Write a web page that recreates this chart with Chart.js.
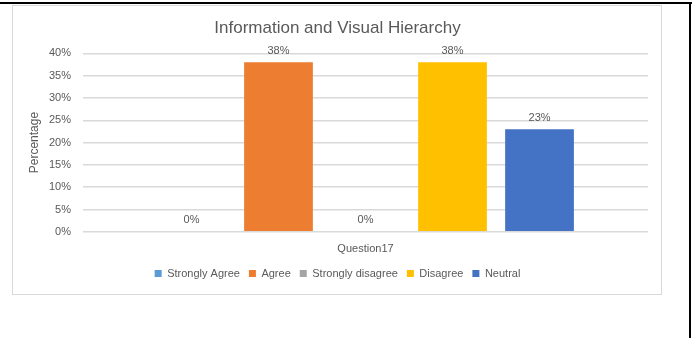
<!DOCTYPE html>
<html>
<head>
<meta charset="utf-8">
<script src="https://cdn.jsdelivr.net/npm/chart.js@4/dist/chart.umd.min.js"></script>
<style>
  body { margin: 0; background: #fff; width: 693px; height: 338px; position: relative; overflow: hidden; }
  .topline { position: absolute; left: 0; top: 2px; width: 692px; height: 2px; background: #000; }
  .sideline { position: absolute; left: 689px; top: 2px; width: 2px; height: 336px; background: #000; }
  .box { position: absolute; left: 12px; top: 5px; width: 648px; height: 288px; border: 1px solid #d9d9d9; }
</style>
</head>
<body>
<div class="topline"></div>
<div class="sideline"></div>
<div class="box"><canvas id="chart" width="648" height="288"></canvas></div>
<script>
const categories = ['Question17'];
const seriesNames = ['Strongly Agree', 'Agree', 'Strongly disagree', 'Disagree', 'Neutral'];
const seriesValues = [0, 0.38, 0, 0.38, 0.23];
const seriesColors = ['#5B9BD5', '#ED7D31', '#A5A5A5', '#FFC000', '#4472C4'];

const FONT = '"Liberation Sans", Arial, sans-serif';
const TEXT = '#595959';

// draws the value above each bar, like Excel data labels
const valueLabels = {
  id: 'valueLabels',
  afterDatasetsDraw(chart) {
    const ctx = chart.ctx;
    ctx.save();
    ctx.font = '11px ' + FONT;
    ctx.fillStyle = TEXT;
    ctx.textAlign = 'center';
    ctx.textBaseline = 'bottom';
    chart.data.datasets.forEach((ds, i) => {
      const meta = chart.getDatasetMeta(i);
      meta.data.forEach((bar, j) => {
        const v = ds.data[j];
        ctx.fillText(Math.round(v * 100) + '%', bar.x, bar.y - 6);
      });
    });
    ctx.restore();
  }
};

new Chart(document.getElementById('chart'), {
  type: 'bar',
  data: {
    labels: categories,
    datasets: seriesNames.map((name, i) => ({
      label: name,
      data: [seriesValues[i]],
      backgroundColor: seriesColors[i],
      barPercentage: 0.79,
      categoryPercentage: 0.77
    }))
  },
  options: {
    responsive: false,
    animation: false,
    layout: { padding: { top: 0, right: 13, bottom: 5, left: 14 } },
    plugins: {
      title: {
        display: true,
        text: 'Information and Visual Hierarchy',
        color: TEXT,
        font: { family: FONT, size: 17, weight: 'normal' },
        padding: { top: 12, bottom: 15 }
      },
      legend: {
        position: 'bottom',
        labels: {
          boxWidth: 7,
          boxHeight: 7,
          color: TEXT,
          font: { family: FONT, size: 11 },
          padding: 9
        }
      },
      tooltip: { enabled: false }
    },
    scales: {
      x: {
        grid: { display: false },
        border: { display: false },
        ticks: { color: TEXT, font: { family: FONT, size: 11 }, padding: 3 }
      },
      y: {
        min: 0,
        max: 0.4,
        ticks: {
          stepSize: 0.05,
          color: TEXT,
          font: { family: FONT, size: 11 },
          padding: 12,
          callback: v => Math.round(v * 100) + '%'
        },
        grid: { color: '#d9d9d9', lineWidth: 1.5, drawTicks: false },
        border: { display: false },
        title: {
          display: true,
          text: 'Percentage',
          color: TEXT,
          font: { family: FONT, size: 12 },
          padding: { top: 0, bottom: 4 }
        },
        afterFit(scale) { scale.width = 56; }
      }
    }
  },
  plugins: [valueLabels]
});
</script>
</body>
</html>
